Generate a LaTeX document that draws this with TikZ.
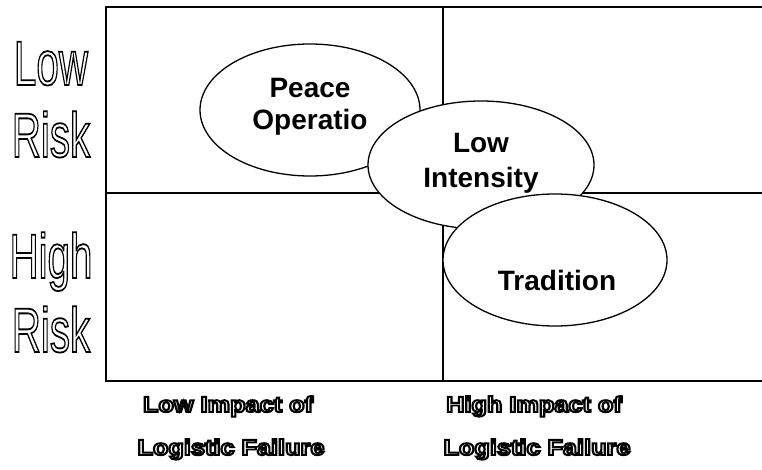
\documentclass[tikz,border=0pt]{standalone}
\usepackage{fontspec}
\setmainfont{Liberation Sans}
\usepackage{graphicx}
\usetikzlibrary{shapes.geometric}
\newcommand\outltext[2]{\special{pdf:literal direct 1 Tr #1 w}#2\special{pdf:literal direct 0 Tr}}
\begin{document}
\begin{tikzpicture}[x=1pt,y=-1pt,
  grid/.style={line width=2pt},
  blob/.style={draw, ellipse, fill=white, line width=1.3pt, inner sep=0pt},
  etext/.style={font=\bfseries\fontsize{28}{32}\selectfont, anchor=base, inner sep=0pt},
  risk/.style={font=\fontsize{63}{72}\selectfont, anchor=base, inner sep=0pt},
  impact/.style={font=\bfseries\fontsize{22}{24}\selectfont, anchor=base, inner sep=0pt}]
\useasboundingbox (0,0) rectangle (762,470);
\begin{scope}
  \clip (0,0) rectangle (762,470);
  \coordinate (tl) at (106,7);
  \coordinate (tr) at (790,7);
  \coordinate (bl) at (106,381);
  \coordinate (br) at (790,381);
  \coordinate (ml) at (106,193);
  \coordinate (mr) at (790,193);
  \coordinate (mt) at (443,7);
  \coordinate (mb) at (443,381);
  \draw[grid] (tr) -- (tl) -- (bl) -- (br);
  \draw[grid] (ml) -- (mr);
  \draw[grid] (mt) -- (mb);
\end{scope}
% ellipses
\node[blob, minimum width=220pt, minimum height=132pt] (peace) at (310,110) {};
\node[etext] (peace1) at (310,98) {Peace};
\node[etext] (peace2) at (310,130) {Operatio};
\node[blob, minimum width=226pt, minimum height=128pt] (low) at (481,165) {};
\node[etext] (low1) at (481,153) {Low};
\node[etext] (low2) at (481,188) {Intensity};
\node[blob, minimum width=224pt, minimum height=132pt] (trad) at (555,260) {};
\node[etext] (trad1) at (557,290) {Tradition};
% left labels
\node[risk] (lowrisk1) at (51,85) {\scalebox{0.64}[1]{\outltext{1.8}{Low}}};
\node[risk] (lowrisk2) at (51,157) {\scalebox{0.64}[1]{\outltext{1.8}{Risk}}};
\node[risk] (highrisk1) at (51,278) {\scalebox{0.64}[1]{\outltext{1.8}{High}}};
\node[risk] (highrisk2) at (51,352) {\scalebox{0.64}[1]{\outltext{1.8}{Risk}}};
% bottom labels
\node[impact] (li1) at (228,412) {\scalebox{1.15}[1]{\outltext{1.9}{Low Impact of}}};
\node[impact] (li2) at (231,455) {\scalebox{1.15}[1]{\outltext{1.9}{Logistic Failure}}};
\node[impact] (hi1) at (534,412) {\scalebox{1.15}[1]{\outltext{1.9}{High Impact of}}};
\node[impact] (hi2) at (537,455) {\scalebox{1.15}[1]{\outltext{1.9}{Logistic Failure}}};
\end{tikzpicture}
\end{document}
